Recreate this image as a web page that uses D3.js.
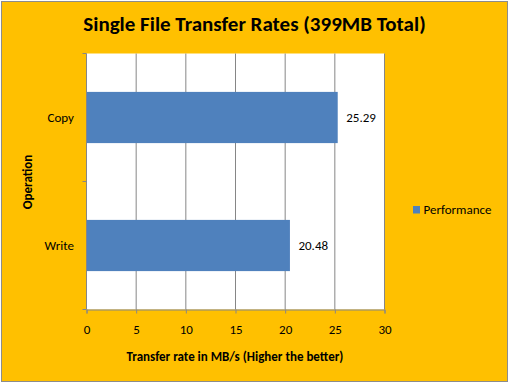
<!DOCTYPE html>
<html lang="en">
<head>
<meta charset="utf-8">
<title>Single File Transfer Rates</title>
<script src="https://cdn.jsdelivr.net/npm/d3@7"></script>
<style>
	body{ margin:0; background:#fff; }
	text{ font-family:Carlito, Calibri, Lato, sans-serif; fill:#000; }
</style>
</head>
<body>
<div id="chart"></div>
<script>
// data
const operations = ["Copy", "Write"];
const performance = [25.29, 20.48];
const xTicks = [0, 5, 10, 15, 20, 25, 30];
const seriesName = "Performance";

const W = 509, H = 383;
const plot = {left:86.5, right:384.5, top:53.5, bottom:309.5};

const svg = d3.select("#chart").append("svg")
	.attr("width", W).attr("height", H);

// background + border
svg.append("rect")
	.attr("x", 1.5).attr("y", 1.5)
	.attr("width", W - 3).attr("height", H - 3)
	.attr("fill", "#FFC000")
	.attr("stroke", "#8c8c8c").attr("stroke-width", 1);

// plot area
svg.append("rect")
	.attr("x", plot.left).attr("y", plot.top)
	.attr("width", plot.right - plot.left).attr("height", plot.bottom - plot.top)
	.attr("fill", "#fff");

const x = d3.scaleLinear().domain([0, 30]).range([plot.left, plot.right]);
const y = d3.scaleBand().domain(operations).range([plot.top, plot.bottom]).paddingInner(0.6).paddingOuter(0.3);
const yb = d3.scaleBand().domain(operations).range([plot.top, plot.bottom]);

// gridlines
svg.selectAll("line.grid")
	.data(xTicks.slice(1))
	.enter().append("line")
	.attr("class", "grid")
	.attr("x1", d => x(d)).attr("x2", d => x(d))
	.attr("y1", plot.top).attr("y2", plot.bottom)
	.attr("stroke", "#868686").attr("stroke-width", 1);

// bars
svg.selectAll("rect.bar")
	.data(operations)
	.enter().append("rect")
	.attr("class", "bar")
	.attr("x", x(0))
	.attr("y", d => y(d))
	.attr("width", (d, i) => x(performance[i]) - x(0))
	.attr("height", y.bandwidth())
	.attr("fill", "#4F81BD");

// value labels
svg.selectAll("text.val")
	.data(operations)
	.enter().append("text")
	.attr("class", "val")
	.attr("x", (d, i) => x(performance[i]) + 8.5)
	.attr("y", d => y(d) + y.bandwidth() / 2 + 4.5)
	.attr("font-size", "13px")
	.text((d, i) => performance[i].toFixed(2));

// x axis
const xAxis = svg.append("g")
	.attr("transform", "translate(0," + plot.bottom + ")")
	.call(d3.axisBottom(x).tickValues(xTicks).tickSize(4).tickPadding(11));
xAxis.select(".domain").attr("stroke", "#868686");
xAxis.selectAll(".tick line").attr("stroke", "#868686");
xAxis.selectAll(".tick text").attr("font-size", "13px").attr("font-family", null);

// y axis
svg.append("line")
	.attr("x1", plot.left).attr("x2", plot.left)
	.attr("y1", plot.top).attr("y2", plot.bottom)
	.attr("stroke", "#868686");
const bounds = operations.map(d => yb(d)).concat([plot.bottom]);
svg.selectAll("line.ytick")
	.data(bounds)
	.enter().append("line")
	.attr("class", "ytick")
	.attr("x1", plot.left - 4).attr("x2", plot.left)
	.attr("y1", d => d).attr("y2", d => d)
	.attr("stroke", "#868686");
svg.selectAll("text.cat")
	.data(operations)
	.enter().append("text")
	.attr("class", "cat")
	.attr("x", plot.left - 12.5)
	.attr("y", d => yb(d) + yb.bandwidth() / 2 + 4.5)
	.attr("text-anchor", "end")
	.attr("font-size", "13px")
	.text(d => d);

// titles
svg.append("text")
	.attr("x", 254.5).attr("y", 31)
	.attr("text-anchor", "middle")
	.attr("font-size", "21px").attr("font-weight", "bold")
	.text("Single File Transfer Rates (399MB Total)");

svg.append("text")
	.attr("x", 235).attr("y", 360.5)
	.attr("text-anchor", "middle")
	.attr("font-size", "13px").attr("font-weight", "bold")
	.text("Transfer rate in MB/s (Higher the better)");

svg.append("text")
	.attr("transform", "translate(32,182) rotate(-90)")
	.attr("text-anchor", "middle")
	.attr("font-size", "13px").attr("font-weight", "bold")
	.text("Operation");

// legend
const lg = svg.append("g").attr("transform", "translate(413,206)");
lg.append("rect").attr("width", 7).attr("height", 7.5).attr("fill", "#4F81BD");
lg.append("text").attr("x", 10.5).attr("y", 8).attr("font-size", "13px").text(seriesName);
</script>
</body>
</html>
